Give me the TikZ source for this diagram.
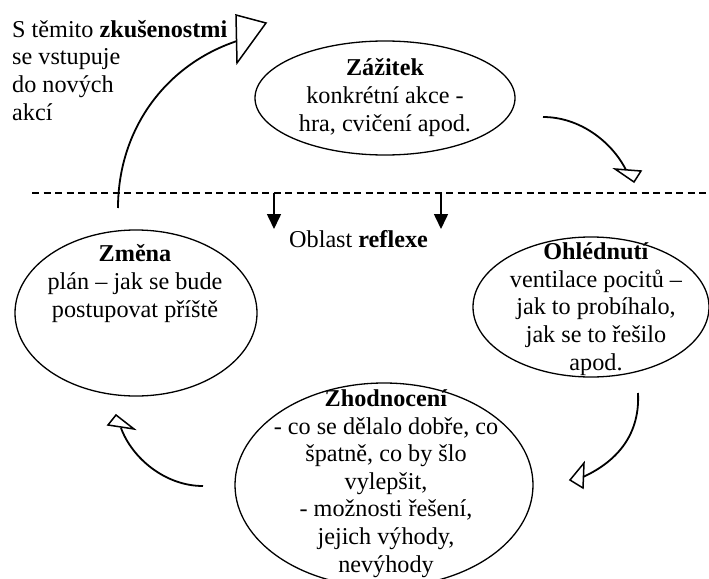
\documentclass[tikz,border=0pt]{standalone}
\usepackage{fontspec}
\setmainfont{Liberation Serif}
\usetikzlibrary{shapes.geometric,arrows.meta}
\begin{document}
\begin{tikzpicture}[x=1pt,y=-1pt,
  txt/.style={inner sep=0pt, align=center, font=\fontsize{24.2}{27.6}\selectfont},
  ell/.style={draw, ellipse, line width=1.3pt, inner sep=0pt},
  flow/.style={line width=1.8pt},
  head/.style={line width=1.5pt, fill=white, line join=miter},
  down/.style={line width=1.6pt, -{Triangle[width=14pt,length=15pt]}}]
\useasboundingbox (0,0) rectangle (709,578);
% ellipses
\node[ell, minimum width=260pt, minimum height=114pt] (e1) at (385,98) {};
\node[ell, minimum width=242pt, minimum height=166pt] (e4) at (136,313) {};
\node[ell, minimum width=236pt, minimum height=140pt] (e2) at (591,307) {};
\node[ell, minimum width=298pt, minimum height=204pt] (e3) at (384,485) {};
% texts (base anchor = baseline of the last line)
\node[txt, anchor=base] (t1) at (385,131) {\textbf{Zážitek}\\konkrétní akce -\\hra, cvičení apod.};
\node[txt, anchor=base] (t4) at (135,317) {\textbf{Změna}\\plán – jak se bude\\postupovat příště};
\node[txt, anchor=base] (t2) at (596,370) {\textbf{Ohlédnutí}\\ventilace pocitů –\\jak to probíhalo,\\jak se to řešilo\\apod.};
\node[txt, anchor=base] (t3) at (386,572) {\textbf{Zhodnocení}\\- co se dělalo dobře, co\\špatně, co by šlo\\vylepšit,\\ - možnosti řešení,\\jejich výhody,\\nevýhody};
\node[txt, anchor=base west, align=left] (t0) at (12,120) {S těmito \textbf{zkušenostmi}\\se vstupuje\\do nových\\akcí};
\node[txt, anchor=base west] (tr) at (289,247) {Oblast \textbf{reflexe}};
% dashed separator
\coordinate (dl) at (32,193);
\coordinate (dr) at (709,193);
\draw[line width=1.5pt, dash pattern=on 7pt off 4.5pt] (dl) -- (dr);
% down arrows
\coordinate (da1) at (274,193);
\coordinate (db1) at (274,229);
\coordinate (da2) at (441,193);
\coordinate (db2) at (441,229);
\draw[down] (da1) -- (db1);
\draw[down] (da2) -- (db2);
% curved arrow: left up
\coordinate (c0s) at (118,208);
\coordinate (c0e) at (237,41);
\draw[flow] (c0s) .. controls (118,130) and (165,65) .. (c0e);
\draw[head] (236,15) -- (266,23) -- (237,63) -- cycle;
% curved arrow: Zazitek -> Ohlednuti
\coordinate (c1s) at (543,117);
\coordinate (c1e) at (626,170);
\draw[flow] (c1s) .. controls (580,117) and (612,142) .. (c1e);
\draw[head] (615,169) -- (641,171) -- (634,182) -- cycle;
% curved arrow: Ohlednuti -> Zhodnoceni
\coordinate (c2s) at (638,393);
\coordinate (c2e) at (583,477);
\draw[flow] (c2s) .. controls (640,432) and (620,460) .. (c2e);
\draw[head] (584,463) -- (570,480) -- (583,488) -- cycle;
% curved arrow: Zhodnoceni -> Zmena
\coordinate (c3s) at (203,486);
\coordinate (c3e) at (121,428);
\draw[flow] (c3s) .. controls (165,486) and (132,458) .. (c3e);
\draw[head] (108,425) -- (116,415) -- (134,429) -- cycle;
\end{tikzpicture}
\end{document}
